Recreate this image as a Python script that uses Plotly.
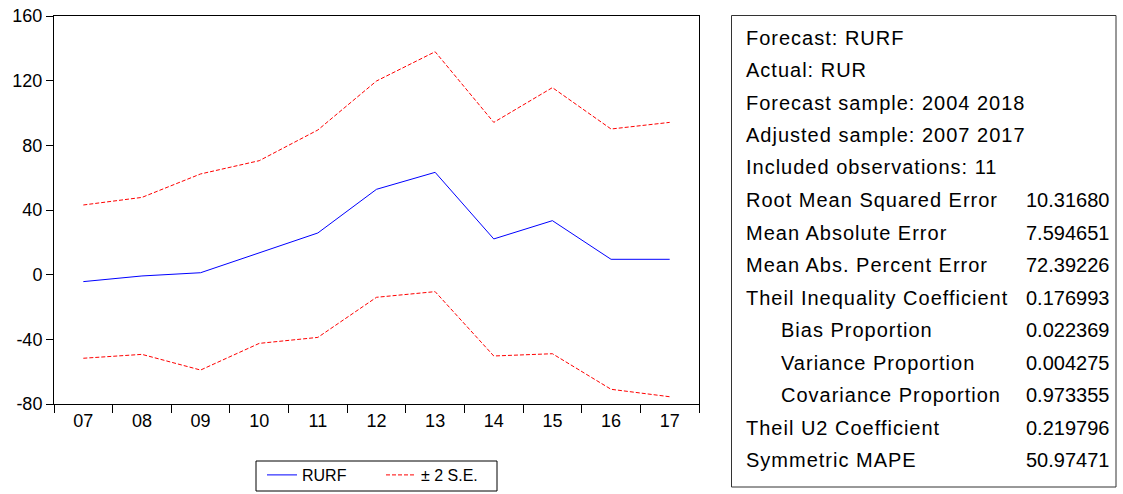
import plotly.graph_objects as go

# ---------------- data ----------------
years = ["07", "08", "09", "10", "11", "12", "13", "14", "15", "16", "17"]
rurf = [-4.3, -0.8, 1.2, 13.5, 25.8, 52.8, 63.3, 22.1, 33.4, 9.5, 9.5]
upper = [43.1, 47.8, 62.3, 70.5, 89.5, 119.8, 137.9, 94.2, 115.7, 90.1, 94.2]
lower = [-51.7, -49.3, -59.0, -42.5, -38.8, -14.0, -10.5, -50.3, -48.9, -70.9, -75.5]

y_ticks = [-80, -40, 0, 40, 80, 120, 160]

stat_labels = [
    "Forecast: RURF",
    "Actual: RUR",
    "Forecast sample: 2004 2018",
    "Adjusted sample: 2007 2017",
    "Included observations: 11",
    "Root Mean Squared Error",
    "Mean Absolute Error",
    "Mean Abs. Percent Error",
    "Theil Inequality Coefficient",
    "Bias Proportion",
    "Variance Proportion",
    "Covariance Proportion",
    "Theil U2 Coefficient",
    "Symmetric MAPE",
]
stat_values = ["", "", "", "", "", "10.31680", "7.594651", "72.39226", "0.176993",
               "0.022369", "0.004275", "0.973355", "0.219796", "50.97471"]
stat_indent = [False] * 9 + [True, True, True] + [False, False]

# ---------------- layout geometry (pixels) ----------------
W, H = 1123, 494
L, T, R, B = 54, 16, 699, 404
PW, PH = R - L, B - T


def px(x):
    return (x - L) / PW


def py(y):
    return (B - y) / PH


FONT = "Liberation Sans, Arial, sans-serif"

fig = go.Figure()
fig.add_trace(go.Scatter(x=years, y=rurf, mode="lines", name="RURF",
                         line=dict(color="#0000FF", width=1)))
fig.add_trace(go.Scatter(x=years, y=upper, mode="lines", name="\u00b1 2 S.E.",
                         line=dict(color="#FF0000", width=1, dash="4px,2px")))
fig.add_trace(go.Scatter(x=years, y=lower, mode="lines", name="\u00b1 2 S.E.",
                         showlegend=False,
                         line=dict(color="#FF0000", width=1, dash="4px,2px")))

fig.update_layout(
    width=W, height=H,
    margin=dict(l=L, r=W - R, t=T, b=H - B, pad=0, autoexpand=False),
    paper_bgcolor="white", plot_bgcolor="white",
    font=dict(family=FONT, size=18, color="black"),
    showlegend=True,
    legend=dict(orientation="h", x=px(262), xanchor="left",
                yref="container", y=1 - 458 / H, yanchor="top",
                borderwidth=0, bgcolor="rgba(0,0,0,0)",
                font=dict(size=16, family=FONT),
                entrywidth=74, entrywidthmode="pixels",
                tracegroupgap=0),
    xaxis=dict(type="category", range=[-0.5, len(years) - 0.5],
               showline=True, linecolor="black", linewidth=1, mirror=True,
               ticks="outside", ticklen=8, tickcolor="black", tickson="boundaries",
               showgrid=False, zeroline=False, fixedrange=True,
               tickfont=dict(size=18, family=FONT)),
    yaxis=dict(range=[-80, 160], tickvals=y_ticks,
               ticktext=[str(v) for v in y_ticks],
               showline=True, linecolor="black", linewidth=1, mirror=True,
               ticks="outside", ticklen=7, tickcolor="black",
               showgrid=False, zeroline=False, fixedrange=True,
               tickfont=dict(size=18, family=FONT)),
)

# legend frame
fig.add_shape(type="rect", xref="paper", yref="paper",
              x0=px(256), x1=px(497), y0=py(491), y1=py(461),
              line=dict(color="black", width=1), fillcolor="white", layer="below")

# statistics box
fig.add_shape(type="rect", xref="paper", yref="paper",
              x0=px(731.5), x1=px(1116), y0=py(487), y1=py(15.5),
              line=dict(color="#333333", width=1), fillcolor="white", layer="below")

row0, dy = 37.5, 32.5
for i, (lab, val, ind) in enumerate(zip(stat_labels, stat_values, stat_indent)):
    yc = py(row0 + dy * i)
    fig.add_annotation(xref="paper", yref="paper", x=px(779 if ind else 744), y=yc,
                       text='<span style="letter-spacing:1px">' + lab + '</span>',
                       showarrow=False, xanchor="left", yanchor="middle",
                       font=dict(size=20, family=FONT, color="black"))
    if val:
        fig.add_annotation(xref="paper", yref="paper", x=px(1111), y=yc,
                           text=val, showarrow=False, xanchor="right", yanchor="middle",
                           font=dict(size=20, family=FONT, color="black"))

fig.write_html("out.html", config={"displayModeBar": False},
               post_script="document.body.style.margin='0';document.body.style.overflow='hidden';")
